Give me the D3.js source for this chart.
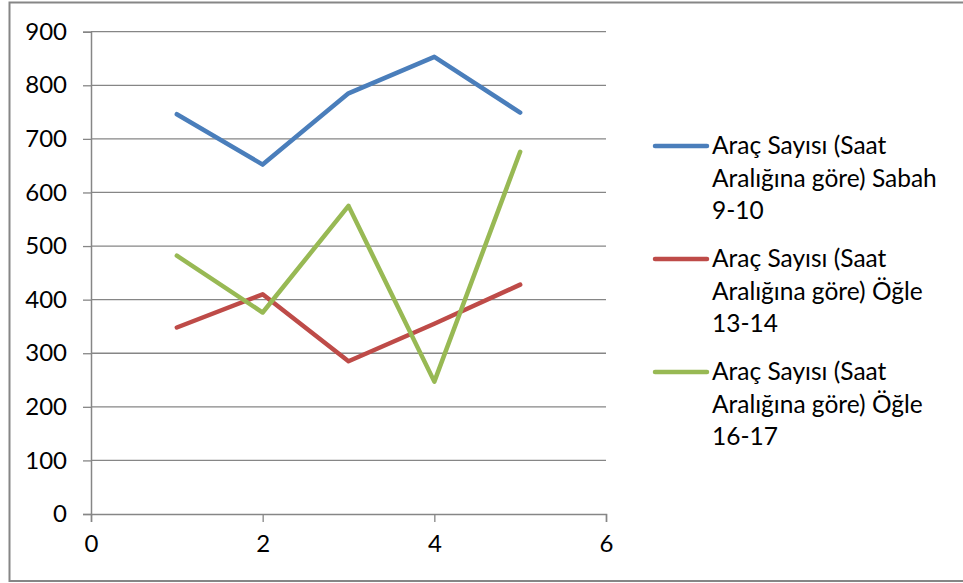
<!DOCTYPE html>
<html>
<head>
<meta charset="utf-8">
<script src="https://cdn.jsdelivr.net/npm/d3@7"></script>
<style>
  html, body { margin: 0; padding: 0; background: #fff; }
  svg { display: block; }
  text { font-family: Lato, "Open Sans", sans-serif; fill: #000; }
</style>
</head>
<body>
<svg id="chart" width="963" height="583"></svg>
<script>
// Vehicle counts per measurement point, by time slot
const xValues = [1, 2, 3, 4, 5];
const sabah910 = [746, 652, 785, 853, 749];
const ogle1314 = [348, 410, 285, 355, 428];
const ogle1617 = [482, 376, 575, 247, 676];

const seriesNames = [
  ["Araç Sayısı (Saat", "Aralığına göre) Sabah", "9-10"],
  ["Araç Sayısı (Saat", "Aralığına göre) Öğle", "13-14"],
  ["Araç Sayısı (Saat", "Aralığına göre) Öğle", "16-17"]
];
const seriesColors = ["#4a7ebb", "#be4b48", "#98b954"];
const seriesValues = [sabah910, ogle1314, ogle1617];

const xTicks = [0, 2, 4, 6];
const yTicks = [0, 100, 200, 300, 400, 500, 600, 700, 800, 900];

const svg = d3.select("#chart");

// Outer chart frame (open on the right)
svg.append("rect")
  .attr("x", 9.5).attr("y", 2.5)
  .attr("width", 1000).attr("height", 578.5)
  .attr("fill", "none").attr("stroke", "#868686").attr("stroke-width", 2);

const x = d3.scaleLinear().domain([0, 6]).range([91, 606]);
const y = d3.scaleLinear().domain([0, 900]).range([514, 31.7]);

// Horizontal gridlines
svg.append("g")
  .selectAll("line")
  .data(yTicks.filter(d => d > 0))
  .join("line")
  .attr("x1", x(0)).attr("x2", x(6))
  .attr("y1", d => y(d)).attr("y2", d => y(d))
  .attr("stroke", "#868686").attr("stroke-width", 1.3);

// Y axis
const yAxis = svg.append("g")
  .attr("transform", `translate(${x(0)},0)`)
  .call(d3.axisLeft(y).tickValues(yTicks).tickFormat(d3.format("d")).tickSize(8).tickPadding(16));
yAxis.select(".domain").attr("stroke", "#868686").attr("stroke-width", 1.5);
yAxis.selectAll(".tick line").attr("stroke", "#868686").attr("stroke-width", 1.3);
yAxis.selectAll(".tick text")
  .attr("font-family", "Lato, 'Open Sans', sans-serif")
  .attr("font-size", 24).attr("fill", "#000");

// X axis
const xAxis = svg.append("g")
  .attr("transform", `translate(0,${y(0)})`)
  .call(d3.axisBottom(x).tickValues(xTicks).tickFormat(d3.format("d")).tickSize(8).tickPadding(13));
xAxis.select(".domain").attr("stroke", "#868686").attr("stroke-width", 1.5);
xAxis.selectAll(".tick line").attr("stroke", "#868686").attr("stroke-width", 1.3);
xAxis.selectAll(".tick text")
  .attr("font-family", "Lato, 'Open Sans', sans-serif")
  .attr("font-size", 24).attr("fill", "#000");

// Series lines
const line = d3.line()
  .x((d, i) => x(xValues[i]))
  .y(d => y(d));

seriesValues.forEach((vals, k) => {
  svg.append("path")
    .datum(vals)
    .attr("d", line)
    .attr("fill", "none")
    .attr("stroke", seriesColors[k])
    .attr("stroke-width", 4.5)
    .attr("stroke-linejoin", "round")
    .attr("stroke-linecap", "round");
});

// Legend
const legend = svg.append("g");
const legendTop = 146;
const legendStep = 113;
seriesNames.forEach((lines, k) => {
  const ly = legendTop + k * legendStep;
  legend.append("line")
    .attr("x1", 655).attr("x2", 707)
    .attr("y1", ly).attr("y2", ly)
    .attr("stroke", seriesColors[k]).attr("stroke-width", 4.5)
    .attr("stroke-linecap", "round");
  lines.forEach((t, j) => {
    legend.append("text")
      .attr("x", 712)
      .attr("y", ly + 8 + j * 32.5)
      .attr("font-size", 24.5)
      .text(t);
  });
});
</script>
</body>
</html>
